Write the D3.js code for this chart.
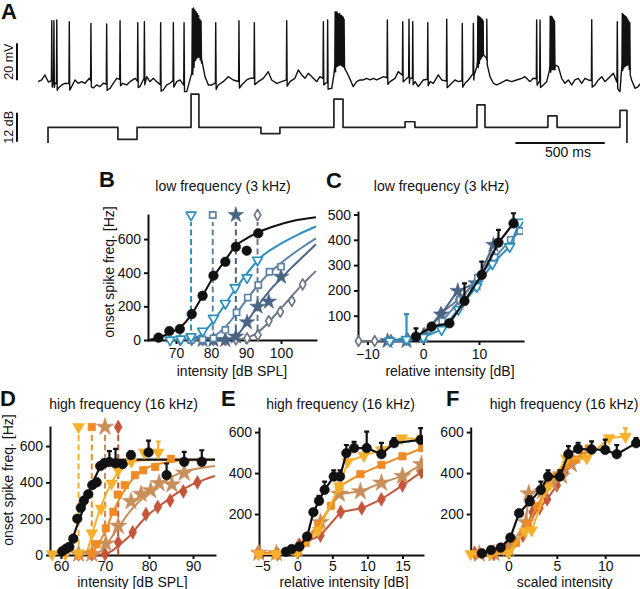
<!DOCTYPE html>
<html><head><meta charset="utf-8">
<script src="https://cdn.jsdelivr.net/npm/d3@7"></script>
<style>
body{margin:0;background:#fff}
svg{display:block}
text{font-family:"Liberation Sans",Arial,Helvetica,sans-serif}
</style></head>
<body><svg id="fig" width="640" height="589"></svg>
<script>
// ================= DATA =================
// Panel A: membrane potential samples [time ms, mV]
const vmTrace = [[0,-59.8],[21,-58.9],[39,-56.2],[58,-60],[95,-60.5],[114,-63.2],[133,-61.6],[151,-60.7],[188,-62.5],[207,-58.9],[225,-60.7],[244,-59.8],[263,-60.7],[287,-58],[309,-63.2],[328,-61.6],[347,-62.5],[365,-60.7],[403,-63.4],[421,-60.7],[440,-58],[474,-60.7],[496,-61.6],[515,-59.8],[543,-58],[570,-62.5],[608,-57.1],[626,-59.8],[645,-58],[664,-59.8],[701,-64.3],[720,-61.6],[738,-60.7],[776,-59.8],[794,-58.9],[832,-65.2],[860,-55.1],[878,-45.4],[897,-43.8],[916,-48.1],[934,-57.1],[953,-61.6],[972,-61.6],[1008,-61.6],[1036,-59.8],[1064,-57.1],[1092,-58.9],[1139,-61.6],[1167,-58.9],[1186,-58],[1232,-59.8],[1260,-58],[1288,-54.4],[1307,-58.9],[1335,-60.7],[1363,-59.8],[1409,-59.8],[1437,-58],[1456,-53.5],[1475,-56.2],[1493,-58],[1512,-55.3],[1540,-58],[1559,-59.8],[1577,-57.1],[1610,-60.5],[1643,-63.4],[1655,-56],[1667,-49.2],[1689,-48.1],[1711,-49.7],[1735,-56.2],[1763,-62.5],[1782,-59.8],[1801,-58.9],[1819,-58.9],[1838,-58],[1857,-58.9],[1876,-58],[1894,-58.9],[1913,-58],[1932,-57.1],[1969,-59.8],[1997,-58],[2015,-54.4],[2053,-58.9],[2080,-58],[2109,-59.8],[2127,-62.5],[2155,-58.9],[2193,-59.8],[2211,-60.7],[2239,-56.2],[2258,-58.9],[2304,-61.6],[2332,-58.9],[2351,-59.8],[2388,-60.7],[2407,-58.9],[2440,-56],[2454,-51.9],[2472,-45.4],[2491,-42.7],[2510,-48.1],[2528,-57.1],[2547,-60.7],[2565,-61.6],[2584,-60.7],[2603,-59.8],[2621,-58.9],[2649,-59.8],[2677,-58.9],[2705,-58],[2724,-57.1],[2752,-59.8],[2770,-58],[2826,-61.6],[2845,-59.8],[2860,-54],[2869,-50.8],[2892,-50.8],[2910,-51.7],[2929,-58],[2947,-60.7],[2966,-58.9],[2985,-61.6],[3003,-58.9],[3022,-58],[3041,-60.7],[3059,-58],[3078,-58.9],[3115,-61.6],[3134,-58.9],[3153,-57.1],[3171,-59.8],[3199,-57.1],[3218,-55.3],[3255,-65.2],[3265,-52],[3277,-49.2],[3299,-48.1],[3320,-58.9],[3339,-63.4],[3357,-62.5],[3367,-61]];
// spikes [time ms, peak mV]
const spikes = [[77,-26.9],[89,-26.9],[105,-26.5],[175,-27.4],[296,-28.3],[384,-28.6],[459,-26.9],[558,-27.9],[595,-27.4],[686,-27.9],[757,-27.9],[817,-27.9],[994,-27.9],[1124,-26.9],[1210,-27.9],[1391,-26.9],[1596,-27.4],[1620,-26.5],[1954,-26.5],[2040,-27.4],[2075,-26],[2096,-27.4],[2180,-27.9],[2286,-26],[2373,-28.3],[2435,-28.3],[2510,-26],[2789,-26.5],[2808,-26.5],[3097,-26.3],[3240,-27.4],
 [863,-20.5],[870,-20],[877,-21],[884,-22],[891,-23],[898,-24],[905,-26],[912,-27],
 [1662,-22],[1667,-22.5],[1672,-22],[1677,-23],[1682,-23.5],[1687,-23],[1692,-24],[1697,-24],[1702,-24.5],[1707,-25],[1712,-26],
 [2460,-24.3],[2466,-24.5],[2472,-25],[2478,-25.5],[2484,-26],[2490,-27],
 [2865,-24.5],[2871,-24.5],[2877,-25],[2883,-26],[2889,-27],
 [3268,-23],[3274,-23.5],[3280,-24],[3286,-24.5],[3292,-25],[3298,-26],[3304,-27],[3310,-28]];
// stimulus: onset time, off level, steps [start ms, end ms, dB re. background]
const stimOn = 56, stimOffLevel = -6.5;
const stimSteps = [[447,554,-5],[856,900,13.7],[1247,1353,-2.6],[1655,1706,11.7],[2053,2108,2.3],[2455,2500,9.3],[2852,2903,4.7],[3255,3294,7]];

// Panel B (3 kHz, absolute intensity)
const bThresholds = [74.3, 80.5, 87.1, 93.3];
const bBlack   = [[65,14],[68.1,53],[71.1,65],[74.5,154],[77.6,263],[80.7,382],[84.1,465],[87.1,554],[90.2,531],[93.5,634]];
const bCyan    = [[68.3,0],[71.4,6],[74.3,20],[77.6,53],[80.7,129],[84.1,218],[86.9,311],[90.3,370],[93.3,475]];
const bSquare  = [[74.3,0],[77.6,3],[80.7,10],[84.1,60],[87.3,164],[90.5,252],[93.5,327],[96.7,406],[100,436]];
const bStar    = [[77.6,0],[80.7,0],[84.1,0],[87.1,20],[90.3,105],[93.3,198],[96.5,228],[100,376]];
const bDiamond = [[71.2,0],[74.5,0],[77.6,0],[80.7,0],[84.1,0],[87.1,3],[90.3,10],[93.4,30],[96.5,113],[99.8,168],[103.1,232],[106.2,331]];
const bBlackFit   = [[62.4,2],[65,14],[68.1,40],[71.4,79],[74.5,154],[77.6,263],[80.7,376],[84.1,475],[87.1,560],[90.2,604],[93.5,640],[98.5,679],[103.3,707],[110,729]];
const bCyanFit    = [[68,0],[71,2],[74,8],[77,30],[80,95],[83,180],[86,275],[89,360],[92,440],[95,505],[98,548],[101,585],[105,628],[110,675]];
const bSquareFit  = [[74,0],[78,5],[81,25],[84,75],[87,150],[90,235],[93,315],[96,385],[99,440],[102,490],[106,550],[110,604]];
const bStarFit    = [[82,0],[85,3],[88,40],[91,130],[94,220],[97,300],[100,365],[103,430],[106,490],[110,569]];
const bDiamondFit = [[86,0],[90,12],[93,40],[96,95],[99,165],[102,235],[105,305],[108,370],[110,410]];

// Panel C (3 kHz, relative intensity)  [rel dB, Hz, err]
const cBlack   = [[-1.3,17,33],[1.5,57,8],[4.7,70,0],[7.4,158,70],[10.5,261,53],[13.5,389,50],[16.2,465,40]];
const cCyan    = [[-6,0,0],[-3,6,100],[0,15,0],[3.3,45,0],[6.3,125,0],[9.6,215,0],[12.4,305,0],[15.5,373,0],[17.3,470,0]];
const cSquare  = [[-6,0],[-3,2],[0,10],[3.4,78],[6.6,162],[9.8,250],[12.8,330],[15.7,400],[17.4,435]];
const cStar    = [[-6.4,0],[-3,0],[0,20],[3.2,105],[6.2,198],[9.4,228],[12.6,380]];
const cDiamond = [[-11.6,0],[-8.7,0],[-5.8,3],[-2.8,10],[0.2,30],[3.2,110],[6.4,165],[9.6,235],[12.6,335]];

// Panel D (16 kHz, absolute intensity)  [dB SPL, Hz, err]
const dThresholds = [64, 67, 70, 73];
const dBlack  = [[60.3,20,0],[61.2,35,5],[61.9,45,5],[62.8,90,10],[63.7,200,10],[64.5,260,10],[65.2,300,12],[66.2,335,12],[67.1,385,15],[68.1,400,20],[68.9,490,15],[69.8,505,20],[71,512,60],[72.4,505,80],[74,500,15],[75.9,550,20],[79.9,565,65],[84,440,64],[88,513,55],[92,513,64]];
const dYellow = [[58,5,0],[61,5,0],[64,10,0],[67,120,0],[69.1,256,0],[71.5,394,0],[73,467,0],[76,515,0],[78.9,565,0],[82.1,565,60]];
const dOrange = [[64,3],[67,8],[68.1,60],[70.2,147],[71.9,238],[72.9,333],[74.5,385],[76.8,440],[78.7,467],[81.4,485],[85,530]];
const dTan    = [[64,5],[67,5],[70.2,62],[73,160],[75.9,295],[78.2,335],[80.4,355],[82.3,395],[85.2,388],[88,452]];
const dRed    = [[64,3],[67,3],[70,5],[73,70],[76.3,125],[79.3,225],[82,265],[84.8,300],[87.8,350],[91,400]];
const dBlackFit  = [[57.5,12],[59,16],[60.5,27],[61.6,50],[62.8,104],[63.9,178],[65.1,256],[66.2,330],[67,385],[68.1,445],[68.9,485],[70,510],[70.8,519],[72.5,524],[75,525],[95,525]];
const dYellowFit = [[64.5,0],[65.5,5],[66.2,40],[67,110],[68,190],[69,262],[70,322],[71,375],[72,420],[73,455],[74.5,492],[76.5,514],[79,522],[83,525],[95,525]];
const dOrangeFit = [[66,0],[68,40],[70,130],[72,245],[74,340],[76,410],[78,455],[80,485],[84,510],[88,520],[95,525]];
const dTanFit    = [[68,0],[70,45],[72,115],[74,185],[76,250],[78,300],[80,345],[82,385],[84,415],[86,440],[88,460],[92,480],[95,490]];
const dRedFit    = [[68,0],[70,5],[72,30],[74,70],[76,115],[78,175],[80,225],[82,262],[84,300],[86,335],[88,365],[90,390],[92,410],[95,435]];

// Panel E (16 kHz, relative intensity)
const eBlack  = [[-1.6,16,0],[-0.8,29,5],[0.3,41,8],[1.4,90,5],[2.3,209,15],[3.1,264,25],[3.9,318,40],[5.2,383,30],[6.1,383,30],[7,497,40],[8.1,522,30],[9.9,522,80],[12,492,55],[13.8,546,25],[17.6,562,57]];
const eYellow = [[-5.5,5],[-3,5],[0,12],[3,120],[6,335],[7.2,455],[9.5,485],[12,512],[14.9,570],[17.8,568]];
const eOrange = [[-5.5,8],[-3,5],[0,15],[1.2,60],[3,145],[4.8,240],[6,335],[9,395],[12,440],[15,482],[17.8,522]];
const eTan    = [[-5.5,10],[-3,8],[0,30],[3.3,160],[6,298],[9,310],[12,352],[15,385],[17.7,442]];
const eRed    = [[-5.6,12],[-2.8,5],[0.3,50],[3.3,95],[6.2,210],[9.2,228],[12,272],[15,340],[17.7,405]];

// Panel F (16 kHz, scaled intensity)
const fBlack  = [[-2.75,8,0],[-1.8,24,5],[-0.8,36,8],[0.2,85,10],[1.1,204,15],[2.2,261,25],[3.35,318,40],[4.1,383,30],[5.3,383,30],[6.2,492,40],[7.2,518,30],[8.6,515,40],[10,513,50],[11.2,492,45],[13.2,546,25]];
const fYellow = [[-3.9,5,0],[-1.9,5,0],[0,10,0],[1.7,115,0],[2.4,120,0],[4,330,0],[6,470,0],[8.1,473,0],[10.4,571,0],[12.1,578,40]];
const fOrange = [[-3.2,5],[-1.5,8],[0,20],[0.8,60],[2,150],[3,240],[4,335],[5,390],[6,440],[7,467],[7.7,485],[8.3,520]];
const fTan    = [[-3,5],[-1.5,8],[0,30],[1.8,160],[2.1,300],[3.5,310],[4.5,352],[5.5,385],[6.5,442]];
const fRed    = [[-3.5,10],[-1.5,5],[0,50],[1.5,95],[2.5,210],[3.2,228],[4,272],[5,340],[5.8,405]];

// tick values
const bXTicks=[70,80,90,100], bYTicks=[0,200,400,600];
const cXTicks=[-10,0,10], cYTicks=[100,200,300,400,500];
const dXTicks=[60,70,80,90], dYTicks=[0,200,400,600];
const eXTicks=[-5,0,5,10,15], eYTicks=[200,400,600];
const fXTicks=[0,5,10], fYTicks=[200,400,600];

// ================= DRAWING =================
const FONT='"Liberation Sans",Arial,Helvetica,sans-serif';
const col = {black:'#111', cyan:'#2b90bd', square:'#5a84a8', star:'#4a6483', diamond:'#6f7888',
             yellow:'#f6b02c', orange:'#f08a22', tan:'#c98f5a', red:'#c5553a'};
const svg = d3.select('#fig');
const defs = svg.append('defs');

function txt(x,y,s,opt={}){
  const t=svg.append('text').attr('x',x).attr('y',y).text(s)
    .attr('font-size',opt.size||14).attr('fill','#111')
    .attr('text-anchor',opt.anchor||'start').attr('font-weight',opt.bold?'bold':'normal');
  if(opt.rot) t.attr('transform',`rotate(-90,${x},${y})`);
  return t;
}
function axes(x,y,xt,yt,xpad){
  const gx=svg.append('g').attr('transform',`translate(0,${y.range()[0]})`)
    .call(d3.axisBottom(x).tickValues(xt).tickSize(4).tickSizeOuter(0).tickPadding(xpad));
  const gy=svg.append('g').attr('transform',`translate(${x.range()[0]},0)`)
    .call(d3.axisLeft(y).tickValues(yt).tickSize(4).tickSizeOuter(0).tickPadding(3));
  [gx,gy].forEach(g=>{
    g.attr('font-size',14).attr('font-family',FONT);
    g.select('.domain').attr('stroke','#111').attr('stroke-width',2).attr('stroke-linecap','square');
    g.selectAll('.tick line').attr('stroke','#111').attr('stroke-width',2);
    g.selectAll('.tick text').attr('fill','#111');
  });
}
let clipN=0;
function clipGroup(x,y){
  const id='clip'+(clipN++);
  defs.append('clipPath').attr('id',id).append('rect')
    .attr('x',x.range()[0]-8).attr('y',y.range()[1]-12)
    .attr('width',x.range()[1]-x.range()[0]+8).attr('height',y.range()[0]-y.range()[1]+20);
  return svg.append('g').attr('clip-path',`url(#${id})`);
}
const shapes={circle:d3.symbolCircle,tri:d3.symbolTriangle,square:d3.symbolSquare,star:d3.symbolStar,diamond:d3.symbolDiamond};
function markers(g,data,x,y,o){
  g.append('g').selectAll('path').data(data).join('path')
    .attr('d',d3.symbol(shapes[o.shape],o.size))
    .attr('transform',d=>`translate(${x(d[0])},${y(d[1])})`+(o.shape==='tri'?' rotate(180)':''))
    .attr('fill',o.open?'#fff':o.color).attr('stroke',o.color)
    .attr('stroke-width',o.open?1.7:0.6).attr('stroke-linejoin','round');
}
function line(g,data,x,y,color,w,curve){
  g.append('path').datum(data)
    .attr('d',d3.line().x(d=>x(d[0])).y(d=>y(d[1])).curve(curve||d3.curveLinear))
    .attr('fill','none').attr('stroke',color).attr('stroke-width',w||2).attr('stroke-linejoin','round');
}
function errbars(g,data,x,y,color){
  const d2=data.filter(d=>d[2]>0);
  g.append('g').selectAll('path').data(d2).join('path')
    .attr('d',d=>`M${x(d[0])},${y(d[1])}V${y(d[1]+d[2])}M${x(d[0])-2.5},${y(d[1]+d[2])}h5`)
    .attr('stroke',color).attr('stroke-width',2.2).attr('fill','none');
}
function thresholds(g,th,x,y,top,specs){
  th.forEach((t,i)=>{
    g.append('line').attr('x1',x(t)).attr('x2',x(t)).attr('y1',y(0)).attr('y2',y(top)+7)
      .attr('stroke',specs[i].color).attr('stroke-width',2).attr('stroke-dasharray','6,3.5');
    markers(g,[[t,top]],x,y,specs[i]);
  });
}

// ---------- Panel A ----------
const xA=d3.scaleLinear([0,3367],[38,640]);
const yVm=d3.scaleLinear([-60,-40],[82,45]);
const yDb=d3.scaleLinear([0,12],[127.3,98.3]);
const bis=d3.bisector(d=>d[0]).right;
function baseAt(t){
  const i=bis(vmTrace,t);
  if(i<=0) return vmTrace[0][1];
  if(i>=vmTrace.length) return vmTrace[vmTrace.length-1][1];
  const a=vmTrace[i-1], b=vmTrace[i];
  return a[1]+(b[1]-a[1])*(t-a[0])/(b[0]-a[0]);
}
let pts=vmTrace.map(d=>[d[0],d[1]]);
spikes.forEach(([t,p])=>{const b=baseAt(t); pts.push([t-2,b+1],[t,p],[t+2.5,b-2.5]);});
pts.sort((a,b)=>a[0]-b[0]);
line(svg,pts,xA,yVm,'#111',1.4);
let sp=[[stimOn,stimOffLevel],[stimOn,0]];
stimSteps.forEach(([s,e,db],i)=>{
  sp.push([s,0],[s,db],[e,db]);
  sp.push(i===stimSteps.length-1?[e,stimOffLevel]:[e,0]);
});
line(svg,sp,xA,yDb,'#222',1.7);
// scale bars
svg.append('line').attr('x1',17).attr('x2',17).attr('y1',yVm(-59)).attr('y2',yVm(-39)).attr('stroke','#111').attr('stroke-width',2);
svg.append('line').attr('x1',17).attr('x2',17).attr('y1',yDb(-6)).attr('y2',yDb(6)).attr('stroke','#111').attr('stroke-width',2);
svg.append('line').attr('x1',xA(2670)).attr('x2',xA(3170)).attr('y1',143).attr('y2',143).attr('stroke','#111').attr('stroke-width',2);
txt(13,(yVm(-59)+yVm(-39))/2,'20 mV',{size:12.5,anchor:'middle',rot:true});
txt(13,(yDb(-6)+yDb(6))/2,'12 dB',{size:12.5,anchor:'middle',rot:true});
txt(568,157,'500 ms',{anchor:'middle'});
txt(1,19,'A',{size:22,bold:true});

// ---------- Panel B ----------
const xB=d3.scaleLinear([62,110],[148,316]);
const yB=d3.scaleLinear([0,743],[340,215]);
axes(xB,yB,bXTicks,bYTicks,4.5);
{
  const g=svg.append('g');
  thresholds(g,bThresholds,xB,yB,743,[
    {shape:'tri',size:42,color:col.cyan,open:true},
    {shape:'square',size:40,color:col.square,open:true},
    {shape:'star',size:75,color:col.star},
    {shape:'diamond',size:36,color:col.diamond,open:true}]);
  const c=d3.curveMonotoneX;
  line(g,bDiamondFit,xB,yB,col.diamond,2,c);
  line(g,bStarFit,xB,yB,col.star,2,c);
  line(g,bSquareFit,xB,yB,col.square,2,c);
  line(g,bCyanFit,xB,yB,col.cyan,2,c);
  line(g,bBlackFit,xB,yB,col.black,2,c);
  markers(g,bDiamond,xB,yB,{shape:'diamond',size:34,color:col.diamond,open:true});
  markers(g,bStar,xB,yB,{shape:'star',size:75,color:col.star});
  markers(g,bSquare,xB,yB,{shape:'square',size:38,color:col.square,open:true});
  markers(g,bCyan,xB,yB,{shape:'tri',size:42,color:col.cyan,open:true});
  markers(g,bBlack,xB,yB,{shape:'circle',size:72,color:col.black});
}
txt(223,191,'low frequency (3 kHz)',{anchor:'middle'});
txt(99,187,'B',{size:22,bold:true});
txt(114,272,'onset spike freq. [Hz]',{anchor:'middle',rot:true});
txt(232,375.5,'intensity [dB SPL]',{anchor:'middle'});

// ---------- Panel C ----------
const xC=d3.scaleLinear([-11.7,17.9],[358,523]);
const yC=d3.scaleLinear([0,510],[341,212]);
axes(xC,yC,cXTicks,cYTicks,4.5);
{
  const g=clipGroup(xC,yC);
  line(g,cDiamond,xC,yC,col.diamond,2);
  markers(g,cDiamond,xC,yC,{shape:'diamond',size:34,color:col.diamond,open:true});
  line(g,cStar,xC,yC,col.star,2);
  markers(g,cStar,xC,yC,{shape:'star',size:75,color:col.star});
  line(g,cSquare,xC,yC,col.square,2);
  markers(g,cSquare,xC,yC,{shape:'square',size:38,color:col.square,open:true});
  errbars(g,cCyan,xC,yC,col.cyan);
  line(g,cCyan,xC,yC,col.cyan,2);
  markers(g,cCyan,xC,yC,{shape:'tri',size:42,color:col.cyan,open:true});
  errbars(g,cBlack,xC,yC,col.black);
  line(g,cBlack,xC,yC,col.black,2.2);
  markers(g,cBlack,xC,yC,{shape:'circle',size:72,color:col.black});
}
txt(441.5,191,'low frequency (3 kHz)',{anchor:'middle'});
txt(326,188,'C',{size:22,bold:true});
txt(450,375.5,'relative intensity [dB]',{anchor:'middle'});

// ---------- Panel D ----------
const xD=d3.scaleLinear([57.5,95],[50,215]);
const yD=d3.scaleLinear([0,705],[555,427]);
axes(xD,yD,dXTicks,dYTicks,2);
{
  const g=svg.append('g');
  thresholds(g,dThresholds,xD,yD,705,[
    {shape:'tri',size:60,color:col.yellow},
    {shape:'square',size:55,color:col.orange},
    {shape:'star',size:95,color:col.tan},
    {shape:'diamond',size:55,color:col.red}]);
  const c=d3.curveMonotoneX;
  line(g,dRedFit,xD,yD,col.red,2,c);
  line(g,dTanFit,xD,yD,col.tan,2,c);
  line(g,dOrangeFit,xD,yD,col.orange,2,c);
  line(g,dYellowFit,xD,yD,col.yellow,2,c);
  line(g,dBlackFit,xD,yD,col.black,2.2,c);
  markers(g,dRed,xD,yD,{shape:'diamond',size:55,color:col.red});
  markers(g,dTan,xD,yD,{shape:'star',size:95,color:col.tan});
  markers(g,dOrange,xD,yD,{shape:'square',size:55,color:col.orange});
  errbars(g,dYellow,xD,yD,col.yellow);
  markers(g,dYellow,xD,yD,{shape:'tri',size:60,color:col.yellow});
  errbars(g,dBlack,xD,yD,col.black);
  markers(g,dBlack,xD,yD,{shape:'circle',size:72,color:col.black});
}
txt(123.5,409,'high frequency (16 kHz)',{anchor:'middle'});
txt(0,406,'D',{size:22,bold:true});
txt(13,480,'onset spike freq. [Hz]',{anchor:'middle',rot:true});
txt(132.5,586.5,'intensity [dB SPL]',{anchor:'middle'});

// ---------- Panel E ----------
const xE=d3.scaleLinear([-5.46,17.93],[259,423]);
const yE=d3.scaleLinear([0,620],[555,428]);
axes(xE,yE,eXTicks,eYTicks,2);
{
  const g=clipGroup(xE,yE);
  const series=[[eRed,col.red,'diamond',55],[eTan,col.tan,'star',95],[eOrange,col.orange,'square',55],[eYellow,col.yellow,'tri',60]];
  series.forEach(([d,c,s,z])=>{line(g,d,xE,yE,c,2);markers(g,d,xE,yE,{shape:s,size:z,color:c});});
  errbars(g,eBlack,xE,yE,col.black);
  line(g,eBlack,xE,yE,col.black,2.2);
  markers(g,eBlack,xE,yE,{shape:'circle',size:72,color:col.black});
}
txt(340.5,409,'high frequency (16 kHz)',{anchor:'middle'});
txt(221,406,'E',{size:22,bold:true});
txt(344,586.5,'relative intensity [dB]',{anchor:'middle'});

// ---------- Panel F ----------
const xF=d3.scaleLinear([-3.9,13.6],[470.7,640]);
const yF=d3.scaleLinear([0,620],[555,428]);
axes(xF,yF,fXTicks,fYTicks,2.5);
{
  const g=clipGroup(xF,yF);
  const series=[[fRed,col.red,'diamond',55],[fTan,col.tan,'star',95],[fOrange,col.orange,'square',55]];
  series.forEach(([d,c,s,z])=>{line(g,d,xF,yF,c,2);markers(g,d,xF,yF,{shape:s,size:z,color:c});});
  errbars(g,fYellow,xF,yF,col.yellow);
  line(g,fYellow,xF,yF,col.yellow,2);
  markers(g,fYellow,xF,yF,{shape:'tri',size:60,color:col.yellow});
  errbars(g,fBlack,xF,yF,col.black);
  line(g,fBlack,xF,yF,col.black,2.2);
  markers(g,fBlack,xF,yF,{shape:'circle',size:72,color:col.black});
}
txt(564,409,'high frequency (16 kHz)',{anchor:'middle'});
txt(446,406,'F',{size:22,bold:true});
txt(564.7,587,'scaled intensity',{anchor:'middle'});
</script></body></html>
